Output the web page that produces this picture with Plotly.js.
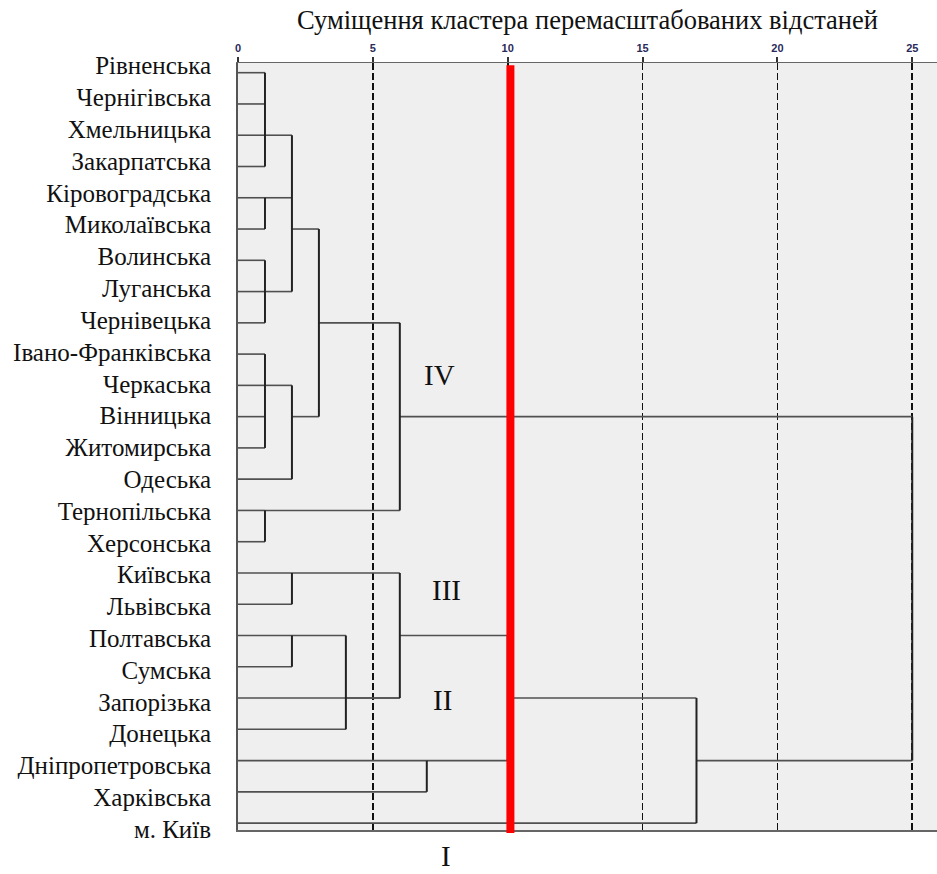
<!DOCTYPE html>
<html>
<head>
<meta charset="utf-8">
<script src="https://cdn.plot.ly/plotly-3.0.1.min.js"></script>
<style>html,body{margin:0;padding:0;background:#fff;}#chart{width:937px;height:874px;}</style>
</head>
<body>
<div id="chart"></div>
<script>
// ---- data ----
const regions = ["Рівненська","Чернігівська","Хмельницька","Закарпатська","Кіровоградська","Миколаївська",
  "Волинська","Луганська","Чернівецька","Івано-Франківська","Черкаська","Вінницька","Житомирська","Одеська",
  "Тернопільська","Херсонська","Київська","Львівська","Полтавська","Сумська","Запорізька","Донецька",
  "Дніпропетровська","Харківська","м. Київ"];
// merges: node ids 0..24 are the regions (rows); merge k gets id 25+k
const mergeChildren = [[0,1,2,3],[4,5],[6,7,8],[25,26,27],[9,10,11,12],[29,13],[28,30],[14,15],[31,32],
  [16,17],[18,19],[35,21],[34,20,36],[22,23],[37,38],[39,24],[33,40]];
const mergeDistance = [1,1,1,2,1,2,3,1,6,2,2,4,6,7,10,17,25];
const mergeRow = [2,4,7,5,10,11,8,14,11,16,18,20,18,22,20,22,16.5];
const axisTicks = [0,5,10,15,20,25];
const cutDistance = 10.1;
const clusterLabels = ["IV","III","II","I"];
const clusterLabelX = [7.47,7.73,7.58,7.73];
const clusterLabelRow = [9.66,16.54,20.06,25.05];
const titleText = "Суміщення кластера перемасштабованих відстаней";

// ---- build dendrogram segments ----
const nodeH = regions.map(()=>0), nodeRow = regions.map((_,i)=>i);
mergeChildren.forEach((c,k)=>{ nodeH.push(mergeDistance[k]); nodeRow.push(mergeRow[k]); });
const hx=[],hy=[],vx=[],vy=[];
mergeChildren.forEach((ch,k)=>{
  const d = mergeDistance[k];
  const rows = ch.map(c=>nodeRow[c]);
  ch.forEach(c=>{ hx.push(nodeH[c], d, null); hy.push(nodeRow[c], nodeRow[c], null); });
  vx.push(d, d, null); vy.push(Math.min(...rows), Math.max(...rows), null);
});

const traces = [
  {x:hx,y:hy,mode:'lines',line:{color:'#505050',width:1.6},hoverinfo:'skip',showlegend:false},
  {x:vx,y:vy,mode:'lines',line:{color:'#222',width:2},hoverinfo:'skip',showlegend:false}
];

const yTop = -0.31, yBottom = 24.22;
const labelPos = regions.map((_,i)=> i*1.0173 - 0.224);
const rowToPaper = r => (yBottom - r)/(yBottom - yTop);

const layout = {
  width:937, height:874,
  margin:{l:238,r:0,t:63,b:44},
  paper_bgcolor:'#fff', plot_bgcolor:'#efefef',
  title:{text:titleText, font:{family:'Liberation Serif', size:26.5, color:'#111'},
    xref:'paper', x:0.5, xanchor:'center', yref:'container', y:1-20/874, yanchor:'middle'},
  xaxis:{side:'top', range:[0, 699/26.97], tickvals:axisTicks, ticktext:axisTicks.map(String),
    ticks:'outside', ticklen:5, tickwidth:2, tickcolor:'#333',
    tickfont:{family:'Liberation Sans', size:11, color:'#2a2a5a', weight:'bold'},
    showgrid:true, gridcolor:'#111', gridwidth:1.6, griddash:'7px,3px',
    showline:true, linecolor:'#666', linewidth:1.5, mirror:true, zeroline:false, fixedrange:true},
  yaxis:{range:[yBottom, yTop], tickvals:labelPos, ticktext:regions, ticks:'', ticklabelstandoff:20,
    tickfont:{family:'Liberation Serif', size:25, color:'#111'},
    showgrid:false, zeroline:false, showline:true, linecolor:'#555', linewidth:2, fixedrange:true},
  shapes:[{type:'line', xref:'x', yref:'paper', x0:cutDistance, x1:cutDistance, y0:-0.004, y1:0.997,
    line:{color:'#ff0000', width:8}, layer:'above'}],
  annotations: clusterLabels.map((t,i)=>({text:t, x:clusterLabelX[i], y:rowToPaper(clusterLabelRow[i]),
    xref:'x', yref:'paper', xanchor:'center', yanchor:'middle', showarrow:false, borderpad:0,
    font:{family:'Liberation Serif', size:29, color:'#111'}}))
};

Plotly.newPlot('chart', traces, layout, {displayModeBar:false, staticPlot:true});
</script>
</body>
</html>
